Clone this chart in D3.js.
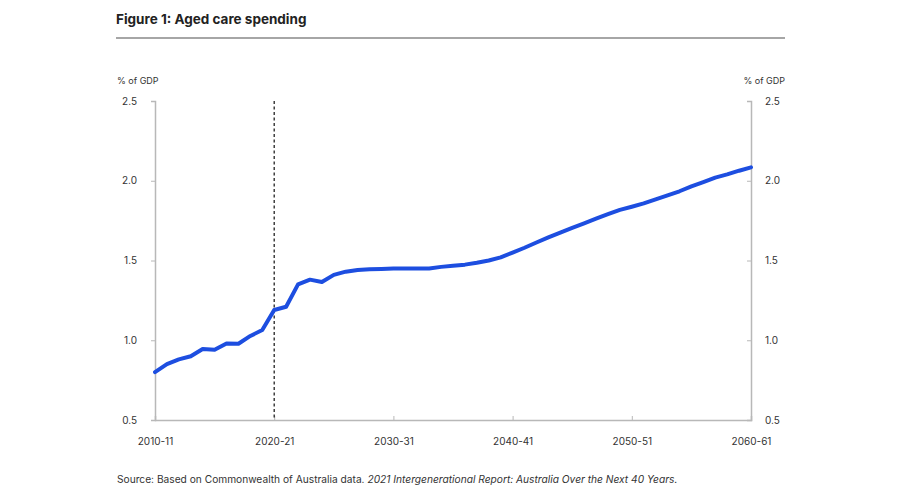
<!DOCTYPE html>
<html><head><meta charset="utf-8">
<script src="https://cdn.jsdelivr.net/npm/d3@7"></script>
<style>body{margin:0;background:#fff}svg{display:block}</style>
</head><body>
<script>
const years = d3.range(2010, 2061);
const spending = [0.80,0.85,0.88,0.90,0.945,0.94,0.98,0.978,1.027,1.064,
  1.19,1.21,1.35,1.38,1.365,1.41,1.43,1.44,1.445,1.447,
  1.45,1.45,1.45,1.45,1.46,1.467,1.474,1.486,1.50,1.52,
  1.55,1.58,1.613,1.645,1.675,1.705,1.733,1.762,1.79,1.817,
  1.837,1.858,1.883,1.908,1.934,1.965,1.992,2.02,2.04,2.063,2.084];
const xTicks = [2010,2020,2030,2040,2050,2060];
const xTickLabels = ["2010-11","2020-21","2030-31","2040-41","2050-51","2060-61"];
const yTicks = [0.5,1.0,1.5,2.0,2.5];
const title = "Figure 1: Aged care spending";
const unitLabel = "% of GDP";
const markerYear = 2020;

const W=904,H=497;
const svg=d3.select("body").append("svg").attr("width",W).attr("height",H)
  .style("font-family","Inter, 'Liberation Sans', sans-serif");
const x=d3.scaleLinear().domain([2010,2060]).range([155,751]);
const y=d3.scaleLinear().domain([0.5,2.5]).range([420,101]);
const axisCol="#b8b8b8", txtCol="#333";

svg.append("text").attr("x",116).attr("y",24).attr("font-size",13.5).attr("font-weight",700)
  .attr("fill","#222").text(title);
svg.append("line").attr("x1",116).attr("x2",785).attr("y1",38).attr("y2",38)
  .attr("stroke","#888").attr("stroke-width",1.6);

svg.append("text").attr("x",117).attr("y",84).attr("font-size",9).attr("fill",txtCol).text(unitLabel);
svg.append("text").attr("x",785).attr("y",84).attr("text-anchor","end").attr("font-size",9).attr("fill",txtCol).text(unitLabel);

const fmt=d3.format(".1f");
const gl=svg.append("g").attr("transform","translate(155,0)")
  .call(d3.axisLeft(y).tickValues(yTicks).tickFormat(fmt).tickSize(4).tickPadding(14));
const gr=svg.append("g").attr("transform","translate(751,0)")
  .call(d3.axisRight(y).tickValues(yTicks).tickFormat(fmt).tickSize(-4).tickPadding(14));
const gb=svg.append("g").attr("transform","translate(0,420)")
  .call(d3.axisBottom(x).tickValues(xTicks).tickFormat((d,i)=>xTickLabels[i]).tickSize(-4).tickPadding(18));
[gl,gr,gb].forEach(g=>{
  g.select(".domain").attr("stroke",axisCol).attr("stroke-width",1.5);
  g.selectAll(".tick line").attr("stroke",axisCol);
  g.selectAll(".tick text").attr("fill",txtCol).attr("font-size",10).attr("font-family","Inter, 'Liberation Sans', sans-serif");
});
gb.selectAll(".tick text").attr("dy","0.71em");

svg.append("line").attr("x1",x(markerYear)).attr("x2",x(markerYear)).attr("y1",y(2.5)).attr("y2",y(0.5))
  .attr("stroke","#222").attr("stroke-width",1.3).attr("stroke-dasharray","3,2.5");

svg.append("path").datum(years.map((d,i)=>[d,spending[i]]))
  .attr("d",d3.line().x(d=>x(d[0])).y(d=>y(d[1])))
  .attr("fill","none").attr("stroke","#1d4ee0").attr("stroke-width",4)
  .attr("stroke-linejoin","round").attr("stroke-linecap","round");

const src=svg.append("text").attr("x",117).attr("y",483).attr("font-size",10.2).attr("fill",txtCol);
src.append("tspan").text("Source: Based on Commonwealth of Australia data. ");
src.append("tspan").attr("font-style","italic").text("2021 Intergenerational Report: Australia Over the Next 40 Years.");
</script>
</body></html>
